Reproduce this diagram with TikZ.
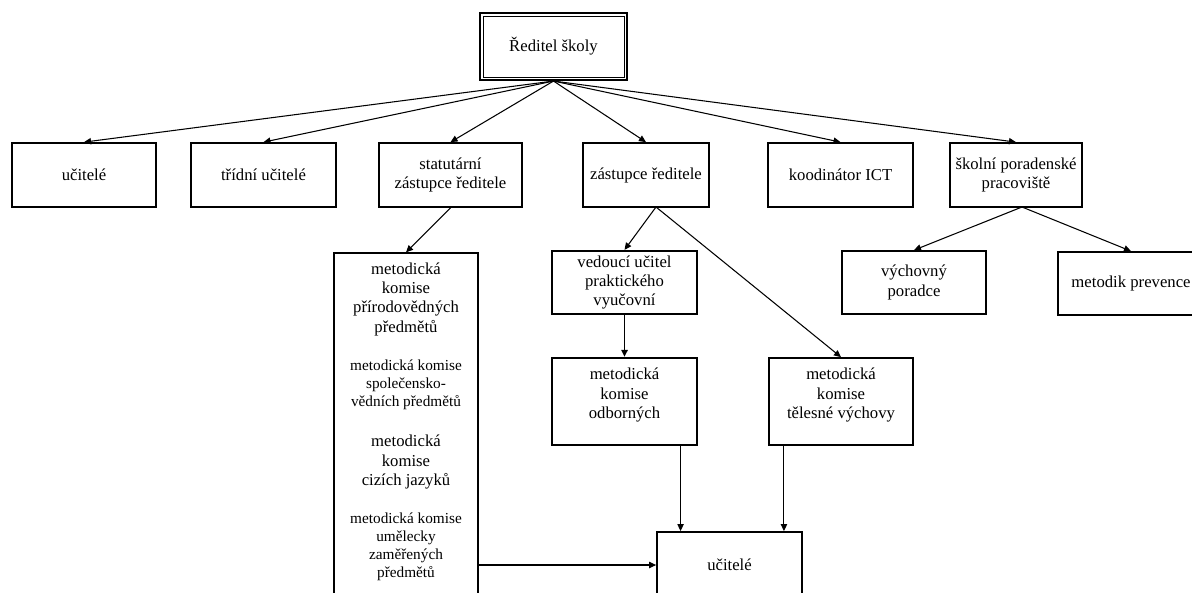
\documentclass[tikz,border=0pt]{standalone}
\usepackage{fontspec}
\setmainfont{Liberation Serif}
\usetikzlibrary{arrows.meta}

\begin{document}
\begin{tikzpicture}[x=0.02cm, y=-0.02cm,
    boxstyle/.style={draw, line width=1pt, align=center, inner sep=0pt,
      font=\fontsize{9.5}{11}\selectfont},
    textstyle/.style={align=center, inner sep=0pt, font=\fontsize{9.5}{11}\selectfont},
    smalltext/.style={align=center, inner sep=0pt, font=\fontsize{8.7}{10.2}\selectfont},
    arrowstyle/.style={-{Triangle[length=4pt, width=3.6pt]}, line width=0.6pt}]
  \useasboundingbox (0,0) rectangle (1192,592);
  % head of the school (double frame)
  \node[boxstyle, line width=1.2pt, minimum width=2.94cm, minimum height=1.34cm] (dir) at (553.5,46.5) {Ředitel školy};
  \draw[line width=0.5pt] ([shift={(4,-4)}]dir.south west) rectangle ([shift={(-4,4)}]dir.north east);
  % first row
  \node[boxstyle, minimum width=2.88cm, minimum height=1.28cm] (ucit) at (84,175) {učitelé};
  \node[boxstyle, minimum width=2.90cm, minimum height=1.28cm] (tridni) at (263.5,175) {třídní učitelé};
  \node[boxstyle, minimum width=2.86cm, minimum height=1.28cm] (stat) at (450.5,175) {statutární\\zástupce ředitele};
  \node[boxstyle, minimum width=2.52cm, minimum height=1.28cm] (zast) at (646,175) {zástupce ředitele};
  \node[boxstyle, minimum width=2.90cm, minimum height=1.28cm] (ict) at (840.5,175) {koodinátor ICT};
  \node[boxstyle, minimum width=2.64cm, minimum height=1.28cm] (spp) at (1016,175) {školní poradenské\\pracoviště};
  % second row
  \node[boxstyle, line width=1.3pt, minimum width=2.90cm, minimum height=1.26cm] (vedouci) at (624.5,282.5) {vedoucí učitel\\praktického\\vyučovní};
  \node[boxstyle, minimum width=2.88cm, minimum height=1.26cm] (vych) at (914,282.5) {výchovný\\poradce};
  \node[boxstyle, minimum width=2.92cm, minimum height=1.26cm] (prev) at (1131,283.5) {metodik prevence};
  % subject commissions
  \node[boxstyle, line width=0.8pt, minimum width=2.88cm, minimum height=6.82cm] (mkbox) at (406,423.5) {};
  \node[textstyle] (mk1) at (406,299) {metodická\\komise\\přírodovědných\\předmětů};
  \node[smalltext] (mk2) at (406,385) {metodická komise\\společensko-\\vědních předmětů};
  \node[textstyle] (mk3) at (406,462) {metodická\\komise\\cizích jazyků};
  \node[smalltext] (mk4) at (406,547) {metodická komise\\umělecky\\zaměřených\\předmětů};
  \node[boxstyle, line width=1.3pt, minimum width=2.90cm, minimum height=1.74cm,
    label={[textstyle, yshift=0.13cm]center:{metodická\\komise\\odborných}}] (odb) at (624.5,401.5) {};
  \node[boxstyle, minimum width=2.88cm, minimum height=1.74cm,
    label={[textstyle, yshift=0.13cm]center:{metodická\\komise\\tělesné výchovy}}] (tel) at (841,401.5) {};
  \node[boxstyle, minimum width=2.90cm, minimum height=1.32cm] (ucit2) at (729.5,565) {učitelé};
  % connectors
  \foreach \n in {ucit, tridni, stat, zast, ict, spp}
    \draw[arrowstyle] (dir.south) -- (\n.north);
  \draw[arrowstyle] (stat.south) -- (mkbox.north);
  \coordinate (zastout) at (656,207);
  \draw[arrowstyle] (zastout) -- (vedouci.north);
  \draw[arrowstyle] (zastout) -- (tel.north);
  \coordinate (sppout) at (1022,207);
  \draw[arrowstyle] (sppout) -- (vych.north);
  \draw[arrowstyle] (sppout) -- (prev.north);
  \draw[arrowstyle, line width=1pt] (vedouci.south) -- (odb.north);
  \coordinate (odbout) at ([xshift=-10pt]odb.south east);
  \coordinate (telout) at ([xshift=9pt]tel.south west);
  \draw[arrowstyle] (odbout) -- (odbout |- ucit2.north);
  \draw[arrowstyle] (telout) -- (telout |- ucit2.north);
  \draw[arrowstyle] (mkbox.east |- ucit2.west) -- (ucit2.west);
\end{tikzpicture}
\end{document}
